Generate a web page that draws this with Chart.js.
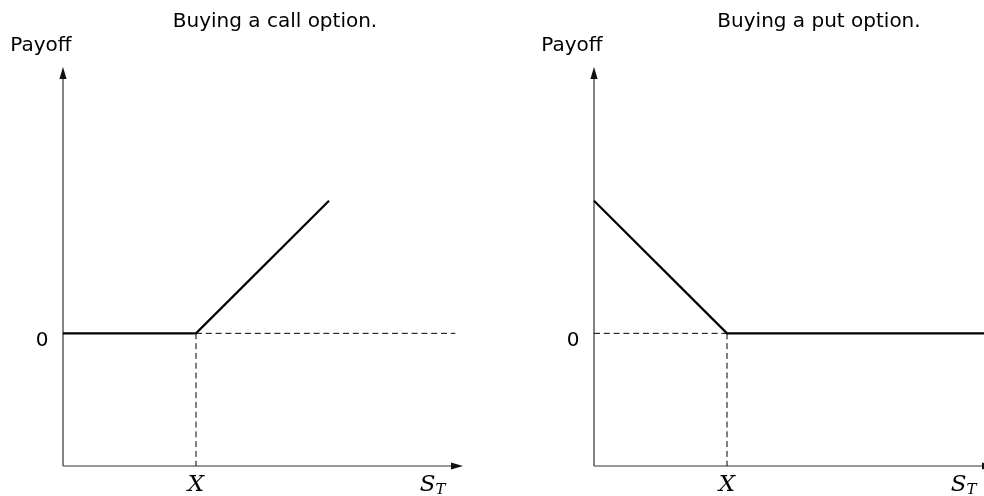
<!DOCTYPE html>
<html lang="en">
<head>
  <meta charset="UTF-8" />
  <title>Option payoffs</title>
  <script src="https://cdn.jsdelivr.net/npm/chart.js"></script>
  <style>
    html, body { margin: 0; padding: 0; background: #fff; overflow: hidden; width: 984px; height: 496px; }
    canvas { position: absolute; top: 0; }
    #callChart { left: 0px; }
    #putChart { left: 531px; }
  </style>
</head>
<body>
  <canvas id="callChart" width="492" height="496"></canvas>
  <canvas id="putChart" width="492" height="496"></canvas>

  <script>
    // axis ranges (strike X = 1)
    const xRange = [0, 3];
    const yRange = [-1, 2];
    const strike = 1;
    const stPos = 2.8;

    // payoff lines
    const callX = [0, 1, 2];
    const callY = [0, 0, 1];
    const putX = [0, 1, 3];
    const putY = [1, 0, 0];

    // dashed guide lines at zero
    const callZeroX = [1, 2.95];
    const putZeroX = [0, 1];
    const guideY = [0, -1];

    const yTickLabel = '0';
    const strikeLabel = 'X';
    const yAxisLabel = 'Payoff';
    const titles = ['Buying a call option.', 'Buying a put option.'];

    const pts = (xs, ys) => xs.map((x, i) => ({ x: x, y: ys[i] }));

    const axesPlugin = {
      id: 'axesPlugin',
      beforeDatasetsDraw(chart) {
        const { ctx, scales: { x, y } } = chart;
        const x0 = x.getPixelForValue(xRange[0]);
        const x1 = x.getPixelForValue(xRange[1]);
        const y0 = y.getPixelForValue(yRange[0]);
        const y1 = y.getPixelForValue(yRange[1]);
        ctx.save();
        ctx.strokeStyle = '#333';
        ctx.fillStyle = '#111';
        ctx.lineWidth = 1.2;
        ctx.beginPath();
        ctx.moveTo(x0, y0);
        ctx.lineTo(x0, y1 + 5);
        ctx.moveTo(x0, y0);
        ctx.lineTo(x1 - 5, y0);
        ctx.stroke();
        // arrow heads
        ctx.beginPath();
        ctx.moveTo(x0, y1 - 1);
        ctx.lineTo(x0 - 3.6, y1 + 11);
        ctx.lineTo(x0 + 3.6, y1 + 11);
        ctx.closePath();
        ctx.fill();
        ctx.beginPath();
        ctx.moveTo(x1 + 1, y0);
        ctx.lineTo(x1 - 11, y0 - 3.6);
        ctx.lineTo(x1 - 11, y0 + 3.6);
        ctx.closePath();
        ctx.fill();
        ctx.restore();
      },
      afterDraw(chart, args, opts) {
        const { ctx, scales: { x, y } } = chart;
        const x0 = x.getPixelForValue(xRange[0]);
        const y0 = y.getPixelForValue(yRange[0]);
        ctx.save();
        ctx.fillStyle = '#000';
        ctx.textAlign = 'center';
        ctx.textBaseline = 'middle';
        ctx.font = '20px "DejaVu Sans"';
        ctx.fillText(opts.title, opts.titleX, 22);
        ctx.fillText(yAxisLabel, x0 - 22, 46);
        ctx.fillText(yTickLabel, x0 - 21, y.getPixelForValue(0) + 7);
        ctx.font = 'italic 23px "DejaVu Serif"';
        ctx.fillText(strikeLabel, x.getPixelForValue(strike), y0 + 19);
        // S_T
        const sx = x.getPixelForValue(stPos);
        ctx.textAlign = 'right';
        ctx.fillText('S', sx, y0 + 19);
        ctx.textAlign = 'left';
        ctx.font = 'italic 15px "DejaVu Serif"';
        ctx.fillText('T', sx, y0 + 24);
        ctx.restore();
      }
    };

    function makeChart(id, title, titleX, xs, ys, zeroX) {
      new Chart(document.getElementById(id), {
        type: 'scatter',
        data: {
          datasets: [
            {
              data: pts(xs, ys),
              showLine: true,
              borderColor: '#000',
              borderWidth: 2.2,
              pointRadius: 0,
              clip: false
            },
            {
              data: pts(zeroX, [0, 0]),
              showLine: true,
              borderColor: '#000',
              borderWidth: 1,
              borderDash: [6, 3.8],
              pointRadius: 0,
              clip: false
            },
            {
              data: pts([strike, strike], guideY),
              showLine: true,
              borderColor: '#000',
              borderWidth: 1,
              borderDash: [6, 3.8],
              pointRadius: 0,
              clip: false
            }
          ]
        },
        options: {
          responsive: false,
          animation: false,
          layout: { padding: { left: 63, right: 30, top: 68, bottom: 30 } },
          scales: {
            x: { type: 'linear', min: xRange[0], max: xRange[1], display: false },
            y: { type: 'linear', min: yRange[0], max: yRange[1], display: false }
          },
          plugins: {
            legend: { display: false },
            tooltip: { enabled: false },
            axesPlugin: { title: title, titleX: titleX }
          }
        },
        plugins: [axesPlugin]
      });
    }

    makeChart('callChart', titles[0], 275, callX, callY, callZeroX);
    makeChart('putChart', titles[1], 288, putX, putY, putZeroX);
  </script>
</body>
</html>
